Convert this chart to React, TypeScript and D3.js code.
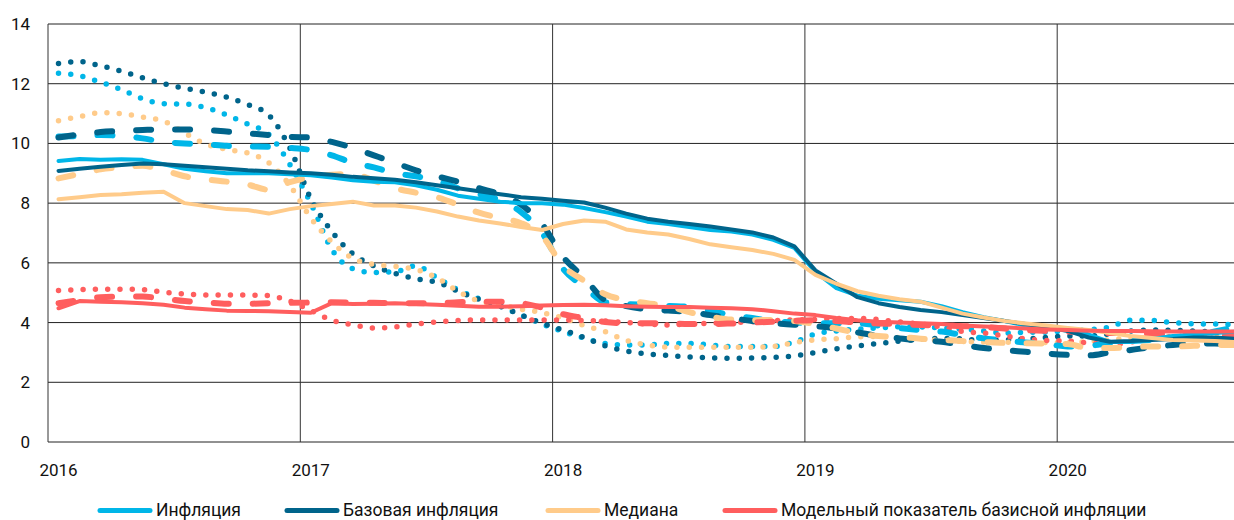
import React from "react";
import * as d3 from "d3";

const yearLabels = ["2016", "2017", "2018", "2019", "2020"];
const yTickValues = [0, 2, 4, 6, 8, 10, 12, 14];
const seriesNames = ["Инфляция", "Базовая инфляция", "Медиана", "Модельный показатель базисной инфляции"];
const seriesColors = ["#00B6E8", "#00648B", "#FFCB8A", "#FF5E5E"];

// Monthly values, Jan 2016 .. Sep 2020
const inflSolid = [9.41, 9.48, 9.45, 9.47, 9.45, 9.3, 9.15, 9.07, 9.0, 9.0, 9.0, 8.97, 8.93, 8.86, 8.77, 8.72, 8.7, 8.6, 8.45, 8.25, 8.15, 8.05, 8.0, 8.0, 7.95, 7.84, 7.7, 7.55, 7.38, 7.3, 7.2, 7.1, 7.05, 6.95, 6.77, 6.5, 5.7, 5.15, 4.9, 4.8, 4.75, 4.7, 4.55, 4.35, 4.18, 4.05, 3.9, 3.85, 3.8, 3.6, 3.35, 3.35, 3.45, 3.55, 3.6, 3.65, 3.7];
const coreSolid = [9.08, 9.15, 9.22, 9.28, 9.33, 9.3, 9.25, 9.2, 9.15, 9.1, 9.07, 9.03, 9.0, 8.95, 8.88, 8.83, 8.78, 8.7, 8.6, 8.5, 8.4, 8.3, 8.2, 8.15, 8.08, 8.02, 7.85, 7.65, 7.48, 7.38, 7.3, 7.22, 7.12, 7.02, 6.85, 6.55, 5.75, 5.3, 4.85, 4.65, 4.52, 4.42, 4.35, 4.25, 4.15, 4.05, 3.95, 3.85, 3.72, 3.5, 3.36, 3.38, 3.42, 3.45, 3.5, 3.5, 3.45];
const medianSolid = [8.13, 8.2, 8.27, 8.3, 8.35, 8.38, 8.0, 7.9, 7.8, 7.77, 7.65, 7.8, 7.9, 7.97, 8.05, 7.92, 7.92, 7.85, 7.72, 7.55, 7.42, 7.32, 7.2, 7.1, 7.3, 7.42, 7.38, 7.12, 7.02, 6.95, 6.8, 6.62, 6.52, 6.43, 6.3, 6.1, 5.6, 5.3, 5.05, 4.9, 4.78, 4.7, 4.5, 4.3, 4.17, 4.05, 3.97, 3.9, 3.82, 3.75, 3.65, 3.55, 3.48, 3.42, 3.4, 3.38, 3.35];
const modelSolid = [4.48, 4.72, 4.7, 4.68, 4.65, 4.6, 4.5, 4.45, 4.4, 4.39, 4.38, 4.35, 4.33, 4.65, 4.62, 4.63, 4.65, 4.62, 4.6, 4.56, 4.53, 4.53, 4.55, 4.57, 4.59, 4.6, 4.58, 4.55, 4.53, 4.52, 4.52, 4.5, 4.48, 4.45, 4.38, 4.3, 4.25, 4.15, 4.08, 4.03, 4.0, 3.98, 3.95, 3.9, 3.87, 3.84, 3.8, 3.77, 3.75, 3.73, 3.72, 3.72, 3.71, 3.7, 3.7, 3.7, 3.7];

const inflDashed = [10.23, 10.25, 10.28, 10.25, 10.17, 10.05, 10.0, 9.97, 9.92, 9.9, 9.89, 9.85, 9.78, 9.6, 9.35, 9.2, 9.0, 8.9, 8.75, 8.5, 8.3, 8.1, 7.7, 7.0, 5.8, 5.2, 4.68, 4.62, 4.6, 4.56, 4.53, 4.4, 4.25, 4.15, 4.05, 4.0, 3.98, 3.98, 3.98, 3.9, 3.82, 3.75, 3.7, 3.58, 3.47, 3.4, 3.33, 3.28, 3.2, 3.22, 3.32, 3.38, 3.42, 3.48, 3.55, 3.7, 3.85];
const coreDashed = [10.2, 10.3, 10.38, 10.42, 10.45, 10.47, 10.47, 10.45, 10.4, 10.34, 10.28, 10.22, 10.2, 10.05, 9.85, 9.6, 9.35, 9.1, 8.9, 8.72, 8.5, 8.3, 7.95, 7.3, 6.2, 5.5, 4.75, 4.55, 4.45, 4.4, 4.36, 4.25, 4.15, 4.05, 3.98, 3.93, 3.88, 3.8, 3.67, 3.55, 3.47, 3.4, 3.36, 3.25, 3.15, 3.08, 3.02, 2.96, 2.92, 2.9, 3.0, 3.08, 3.18, 3.25, 3.3, 3.3, 3.25];
const medianDashed = [8.83, 8.98, 9.13, 9.2, 9.25, 9.1, 8.9, 8.8, 8.72, 8.62, 8.45, 8.7, 8.88, 8.95, 8.98, 8.75, 8.5, 8.35, 8.2, 7.95, 7.68, 7.5, 7.33, 6.9, 5.9, 5.4, 4.95, 4.75, 4.65, 4.55, 4.35, 4.2, 4.1, 4.08, 4.09, 4.05, 3.95, 3.8, 3.65, 3.55, 3.52, 3.46, 3.42, 3.38, 3.35, 3.32, 3.31, 3.3, 3.28, 3.15, 3.15, 3.18, 3.2, 3.2, 3.22, 3.25, 3.25];
const modelDashed = [4.65, 4.75, 4.85, 4.87, 4.87, 4.8, 4.72, 4.68, 4.63, 4.63, 4.65, 4.66, 4.67, 4.68, 4.67, 4.66, 4.65, 4.65, 4.65, 4.68, 4.7, 4.7, 4.65, 4.5, 4.28, 4.15, 4.02, 3.98, 3.98, 3.97, 3.95, 3.95, 3.97, 4.0, 4.03, 4.06, 4.08, 4.05, 4.0, 3.97, 3.95, 3.92, 3.9, 3.88, 3.85, 3.8, 3.75, 3.72, 3.7, 3.68, 3.65, 3.65, 3.62, 3.6, 3.6, 3.58, 3.55];

const inflDotted = [12.35, 12.27, 12.05, 11.8, 11.5, 11.33, 11.32, 11.2, 10.95, 10.65, 10.3, 9.3, 8.0, 6.45, 5.8, 5.68, 5.7, 5.9, 5.5, 5.1, 4.8, 4.55, 4.25, 3.95, 3.7, 3.48, 3.3, 3.25, 3.25, 3.3, 3.3, 3.25, 3.2, 3.2, 3.2, 3.35, 3.62, 3.72, 3.78, 3.82, 3.86, 3.85, 3.82, 3.78, 3.72, 3.65, 3.67, 3.68, 3.72, 3.76, 3.85, 4.08, 4.07, 4.0, 3.96, 3.95, 3.93];
const coreDotted = [12.68, 12.74, 12.6, 12.42, 12.2, 12.0, 11.85, 11.72, 11.55, 11.3, 10.95, 9.85, 8.15, 7.05, 6.3, 5.9, 5.65, 5.47, 5.35, 5.05, 4.78, 4.55, 4.25, 3.98, 3.75, 3.5, 3.22, 3.05, 2.95, 2.9, 2.85, 2.82, 2.8, 2.81, 2.83, 2.88, 3.0, 3.12, 3.22, 3.3, 3.38, 3.45, 3.47, 3.45, 3.4, 3.42, 3.45, 3.5, 3.55, 3.55, 3.62, 3.72, 3.75, 3.74, 3.72, 3.68, 3.64];
const medianDotted = [10.76, 10.9, 11.03, 11.0, 10.88, 10.75, 10.35, 9.98, 9.8, 9.68, 9.35, 8.6, 7.5, 6.7, 6.15, 5.95, 5.88, 5.78, 5.5, 5.05, 4.72, 4.6, 4.45, 4.33, 4.15, 3.9, 3.7, 3.4, 3.25, 3.18, 3.17, 3.17, 3.17, 3.17, 3.2, 3.33, 3.42, 3.46, 3.52, 3.53, 3.5, 3.45, 3.4, 3.37, 3.35, 3.34, 3.33, 3.33, 3.34, 3.36, 3.43, 3.47, 3.5, 3.53, 3.52, 3.5, 3.52];
const modelDotted = [5.07, 5.1, 5.12, 5.12, 5.1, 5.02, 4.96, 4.92, 4.92, 4.92, 4.9, 4.72, 4.4, 4.08, 3.92, 3.82, 3.85, 3.95, 4.02, 4.07, 4.09, 4.09, 4.09, 4.09, 4.09, 4.07, 4.05, 4.0, 3.95, 3.92, 3.95, 3.98, 4.0, 4.03, 4.06, 4.09, 4.1, 4.13, 4.14, 4.1, 4.02, 3.95, 3.85, 3.7, 3.65, 3.55, 3.45, 3.4, 3.38, 3.32, 3.26, 3.35, 3.44, 3.52, 3.5, 3.42, 3.36];

const solidSeries = [inflSolid, coreSolid, medianSolid, modelSolid];
const dashedSeries = [inflDashed, coreDashed, medianDashed, modelDashed];
const dottedSeries = [inflDotted, coreDotted, medianDotted, modelDotted];

const W = 1234;
const H = 520;
const FONT = "Roboto, 'Noto Sans', sans-serif";

export default function App() {
  const left = 48;
  const top = 24;
  const bottom = 442;
  const monthW = 252.3 / 12;
  const x = d3.scaleLinear().domain([0, 60]).range([left, left + monthW * 60]);
  const y = d3.scaleLinear().domain([0, 14]).range([bottom, top]);
  const px = (i: number) => x(i + 0.5);

  const lineLinear = d3
    .line<number>()
    .x((_, i) => px(i))
    .y((d) => y(d));
  const lineSmooth = d3
    .line<number>()
    .x((_, i) => px(i))
    .y((d) => y(d))
    .curve(d3.curveMonotoneX);

  const legendX = [98, 285, 546, 723];

  return (
    <div>
      <style>{"body{margin:0}"}</style>
      <svg width={W} height={H} style={{ display: "block", fontFamily: FONT }}>
        <defs>
          <clipPath id="plotclip">
            <rect x={left} y={0} width={W - left} height={bottom + 5} />
          </clipPath>
        </defs>
        {yTickValues.map((v) => (
          <line key={"h" + v} x1={left} x2={W} y1={y(v)} y2={y(v)} stroke="#222" strokeWidth={1} />
        ))}
        {yearLabels.map((lab, k) => (
          <line key={"v" + lab} x1={x(k * 12)} x2={x(k * 12)} y1={top} y2={bottom} stroke="#333" strokeWidth={1} />
        ))}
        {yTickValues.map((v) => (
          <text key={"yt" + v} x={30} y={y(v) + 6} textAnchor="end" fontSize={17} fill="#111">
            {v}
          </text>
        ))}
        {yearLabels.map((lab, k) => (
          <text key={"xt" + lab} x={px(k * 12)} y={476} textAnchor="middle" fontSize={17} fill="#111">
            {lab}
          </text>
        ))}
        <g clipPath="url(#plotclip)" fill="none">
          {dottedSeries.map((s, i) => (
            <path
              key={"dot" + i}
              d={lineSmooth(s) || ""}
              stroke={seriesColors[i]}
              strokeWidth={5.5}
              strokeLinecap="round"
              strokeDasharray="0 12.3"
            />
          ))}
          {dashedSeries.map((s, i) => (
            <path
              key={"dash" + i}
              d={lineSmooth(s) || ""}
              stroke={seriesColors[i]}
              strokeWidth={6}
              strokeLinecap="round"
              strokeDasharray="15 24"
            />
          ))}
          {solidSeries.map((s, i) => (
            <path
              key={"sol" + i}
              d={lineLinear(s) || ""}
              stroke={seriesColors[i]}
              strokeWidth={4}
              strokeLinejoin="round"
              strokeLinecap="round"
            />
          ))}
        </g>
        {seriesNames.map((name, i) => (
          <g key={"lg" + i}>
            <line
              x1={legendX[i] + 2}
              x2={legendX[i] + 52}
              y1={510.5}
              y2={510.5}
              stroke={seriesColors[i]}
              strokeWidth={5}
              strokeLinecap="round"
            />
            <text x={legendX[i] + 58} y={516} fontSize={17.5} fill="#111">
              {name}
            </text>
          </g>
        ))}
      </svg>
    </div>
  );
}
